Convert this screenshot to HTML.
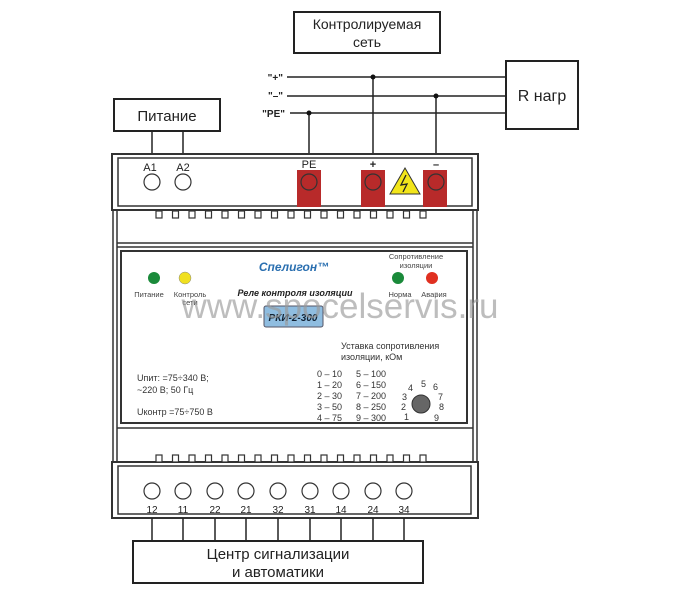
<!DOCTYPE html>
<html><head><meta charset="utf-8"><style>
html,body{margin:0;padding:0;background:#fff;width:686px;height:600px;overflow:hidden}
svg{display:block}
text{font-family:"Liberation Sans","DejaVu Sans",sans-serif}
</style></head><body>
<svg width="686" height="600" viewBox="0 0 686 600" xmlns="http://www.w3.org/2000/svg">
<rect width="686" height="600" fill="#fff"/>
<g stroke="#222" stroke-width="2" fill="none">
<rect x="294" y="12" width="146" height="41"/>
<rect x="506" y="61" width="72" height="68"/>
<rect x="114" y="99" width="106" height="32"/>
<rect x="133" y="541" width="290" height="42"/>
</g>
<g font-size="14" fill="#222" text-anchor="middle">
<text x="367" y="29">Контролируемая</text>
<text x="367" y="47">сеть</text>
<text x="542" y="101" font-size="16">R нагр</text>
<text x="167" y="121" font-size="15">Питание</text>
<text x="278" y="559" font-size="15">Центр сигнализации</text>
<text x="278" y="577" font-size="15">и автоматики</text>
</g>
<g font-size="10" fill="#222" font-weight="bold" text-anchor="end">
<text x="283" y="81">"+"</text>
<text x="283" y="99">"–"</text>
<text x="285" y="117">"PE"</text>
</g>
<g stroke="#222" stroke-width="1.5">
<line x1="287" y1="77" x2="506" y2="77"/>
<line x1="287" y1="96" x2="506" y2="96"/>
<line x1="290" y1="113" x2="506" y2="113"/>
<line x1="373" y1="77" x2="373" y2="155"/>
<line x1="436" y1="96" x2="436" y2="155"/>
<line x1="309" y1="113" x2="309" y2="155"/>
<line x1="152" y1="131" x2="152" y2="155"/>
<line x1="183" y1="131" x2="183" y2="155"/>
</g>
<g fill="#111"><circle cx="373" cy="77" r="2.5"/><circle cx="436" cy="96" r="2.5"/><circle cx="309" cy="113" r="2.5"/></g>
<g stroke="#333" fill="none" stroke-width="1.5">
<line x1="113" y1="210" x2="113" y2="463"/>
<line x1="117" y1="210" x2="117" y2="463"/>
<line x1="473" y1="210" x2="473" y2="463"/>
<line x1="477" y1="210" x2="477" y2="463"/>
<line x1="117" y1="243" x2="473" y2="243"/>
<line x1="117" y1="247" x2="473" y2="247"/>
<rect x="121" y="251" width="346" height="172" stroke-width="2"/>
<line x1="117" y1="428" x2="473" y2="428"/>
<rect x="112" y="154" width="366" height="56" stroke-width="2"/>
<rect x="118" y="158" width="354" height="48"/>
<rect x="112" y="462" width="366" height="56" stroke-width="2"/>
<rect x="118" y="466" width="353" height="48"/>
</g>
<g stroke="#333" fill="#fff" stroke-width="1.2">
<rect x="156" y="211" width="6" height="7"/><rect x="172.5" y="211" width="6" height="7"/><rect x="189" y="211" width="6" height="7"/><rect x="205.5" y="211" width="6" height="7"/><rect x="222" y="211" width="6" height="7"/><rect x="238.5" y="211" width="6" height="7"/><rect x="255" y="211" width="6" height="7"/><rect x="271.5" y="211" width="6" height="7"/><rect x="288" y="211" width="6" height="7"/><rect x="304.5" y="211" width="6" height="7"/><rect x="321" y="211" width="6" height="7"/><rect x="337.5" y="211" width="6" height="7"/><rect x="354" y="211" width="6" height="7"/><rect x="370.5" y="211" width="6" height="7"/><rect x="387" y="211" width="6" height="7"/><rect x="403.5" y="211" width="6" height="7"/><rect x="420" y="211" width="6" height="7"/>
<rect x="156" y="455" width="6" height="7"/><rect x="172.5" y="455" width="6" height="7"/><rect x="189" y="455" width="6" height="7"/><rect x="205.5" y="455" width="6" height="7"/><rect x="222" y="455" width="6" height="7"/><rect x="238.5" y="455" width="6" height="7"/><rect x="255" y="455" width="6" height="7"/><rect x="271.5" y="455" width="6" height="7"/><rect x="288" y="455" width="6" height="7"/><rect x="304.5" y="455" width="6" height="7"/><rect x="321" y="455" width="6" height="7"/><rect x="337.5" y="455" width="6" height="7"/><rect x="354" y="455" width="6" height="7"/><rect x="370.5" y="455" width="6" height="7"/><rect x="387" y="455" width="6" height="7"/><rect x="403.5" y="455" width="6" height="7"/><rect x="420" y="455" width="6" height="7"/>
</g>
<g fill="#b82a2a"><rect x="297" y="170" width="24" height="37"/><rect x="361" y="170" width="24" height="37"/><rect x="423" y="170" width="24" height="37"/></g>
<g stroke="#333" fill="none" stroke-width="1.2">
<circle cx="152" cy="182" r="8"/><circle cx="183" cy="182" r="8"/>
<circle cx="309" cy="182" r="8"/><circle cx="373" cy="182" r="8"/><circle cx="436" cy="182" r="8"/>
</g>
<polygon points="405,168 420,194 390,194" fill="#f2e51a" stroke="#333" stroke-width="1"/>
<path d="M406,175 L401,185 L407,184 L403,192" stroke="#222" fill="none" stroke-width="1.3"/>
<g font-size="11" fill="#222" text-anchor="middle">
<text x="150" y="171">A1</text><text x="183" y="171">A2</text>
<text x="309" y="168">PE</text>
<text x="373" y="168" font-weight="bold">+</text>
<text x="436" y="168" font-weight="bold">–</text>
</g>
<circle cx="154" cy="278" r="6" fill="#1a8a3a"/>
<circle cx="185" cy="278" r="6" fill="#f0e020" stroke="#888" stroke-width="0.5"/>
<circle cx="398" cy="278" r="6" fill="#1a8a3a"/>
<circle cx="432" cy="278" r="6" fill="#e03020"/>
<g font-size="7.5" fill="#444" text-anchor="middle">
<text x="149" y="297">Питание</text><text x="190" y="297">Контроль</text><text x="190" y="305">сети</text>
<text x="416" y="259">Сопротивление</text><text x="416" y="268">изоляции</text>
<text x="400" y="297">Норма</text><text x="434" y="297">Авария</text>
</g>
<text x="294" y="271" font-size="12" fill="#2a6fb0" font-weight="bold" text-anchor="middle" font-style="italic">Cпелигон™</text>
<text x="295" y="296" font-size="9" fill="#222" font-weight="bold" font-style="italic" text-anchor="middle">Реле контроля изоляции</text>
<rect x="264" y="306" width="59" height="21" rx="2" fill="#8fbde0" stroke="#556" stroke-width="1"/>
<text x="293" y="321" font-size="10" fill="#123" font-weight="bold" font-style="italic" text-anchor="middle">РКИ-2-300</text>
<text x="341" y="349" font-size="9" fill="#333">Уставка сопротивления</text>
<text x="341" y="360" font-size="9" fill="#333">изоляции, кОм</text>
<g font-size="9" fill="#333">
<text x="137" y="381">Uпит: =75÷340 В;</text>
<text x="137" y="393">~220 В; 50 Гц</text>
<text x="137" y="415">Uконтр =75÷750 В</text>
<text x="317" y="377">0 – 10</text><text x="356" y="377">5 – 100</text>
<text x="317" y="388">1 – 20</text><text x="356" y="388">6 – 150</text>
<text x="317" y="399">2 – 30</text><text x="356" y="399">7 – 200</text>
<text x="317" y="410">3 – 50</text><text x="356" y="410">8 – 250</text>
<text x="317" y="421">4 – 75</text><text x="356" y="421">9 – 300</text>
<text x="408" y="391">4</text><text x="421" y="387">5</text><text x="433" y="390">6</text>
<text x="402" y="400">3</text><text x="438" y="400">7</text>
<text x="401" y="410">2</text><text x="439" y="410">8</text>
<text x="404" y="420">1</text><text x="434" y="421">9</text>
</g>
<circle cx="421" cy="404" r="9" fill="#666" stroke="#333"/>
<text x="340" y="318" font-size="35" fill="#999" fill-opacity="0.65" text-anchor="middle">www.spocelservis.ru</text>
<g stroke="#333" fill="none" stroke-width="1.2">
<circle cx="152" cy="491" r="8"/><circle cx="183" cy="491" r="8"/><circle cx="215" cy="491" r="8"/><circle cx="246" cy="491" r="8"/><circle cx="278" cy="491" r="8"/><circle cx="310" cy="491" r="8"/><circle cx="341" cy="491" r="8"/><circle cx="373" cy="491" r="8"/><circle cx="404" cy="491" r="8"/>
</g>
<g font-size="10" fill="#222" text-anchor="middle">
<text x="152" y="513">12</text><text x="183" y="513">11</text><text x="215" y="513">22</text><text x="246" y="513">21</text><text x="278" y="513">32</text><text x="310" y="513">31</text><text x="341" y="513">14</text><text x="373" y="513">24</text><text x="404" y="513">34</text>
</g>
<g stroke="#222" stroke-width="1.5">
<line x1="152" y1="518" x2="152" y2="541"/><line x1="183" y1="518" x2="183" y2="541"/><line x1="215" y1="518" x2="215" y2="541"/><line x1="246" y1="518" x2="246" y2="541"/><line x1="278" y1="518" x2="278" y2="541"/><line x1="310" y1="518" x2="310" y2="541"/><line x1="341" y1="518" x2="341" y2="541"/><line x1="373" y1="518" x2="373" y2="541"/><line x1="404" y1="518" x2="404" y2="541"/>
</g>
</svg>
</body></html>
